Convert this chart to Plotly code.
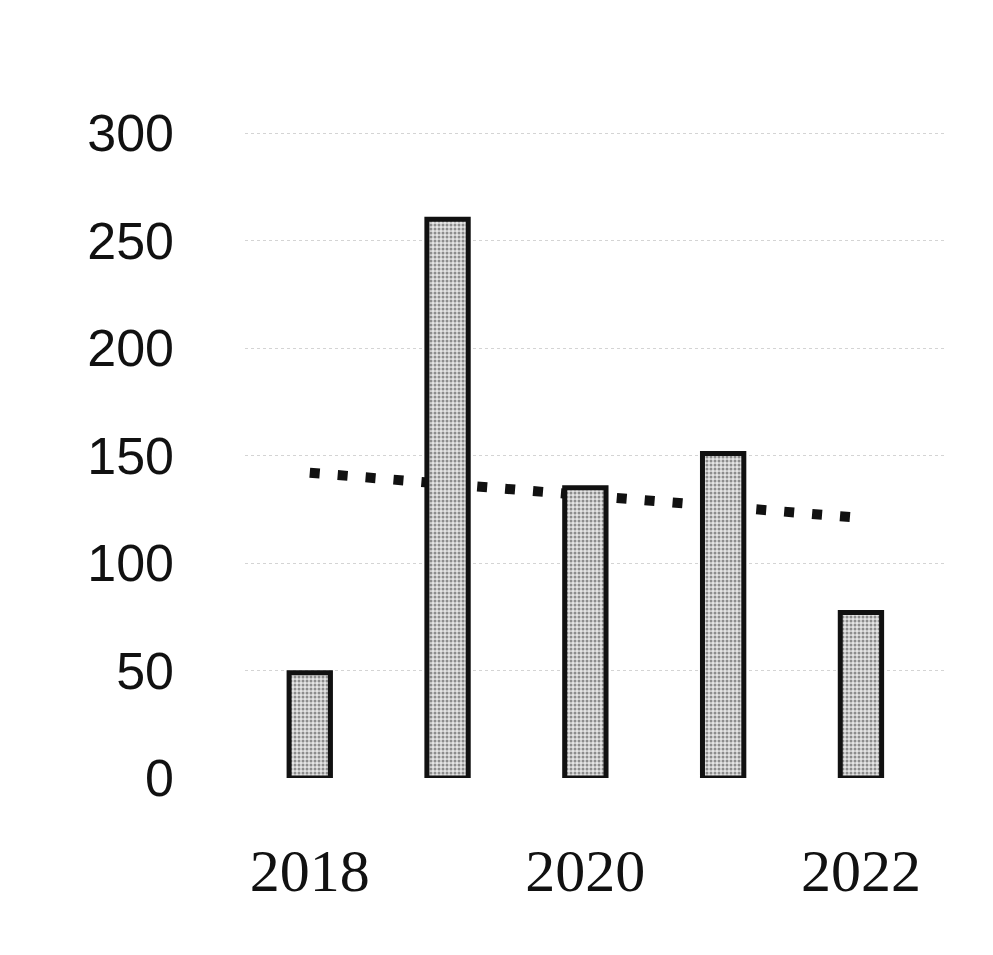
import plotly.graph_objects as go

# Yearly totals shown as bars
years = [2018, 2019, 2020, 2021, 2022]
totals = [49, 260, 135, 151, 77]

# Declining trend line drawn behind the bars
trend_years = [2018, 2022]
trend_values = [142, 121]

# Axis ticks
x_ticks = [2018, 2020, 2022]
y_ticks = [0, 50, 100, 150, 200, 250, 300]

fig = go.Figure()

fig.add_trace(go.Scatter(
    x=trend_years,
    y=trend_values,
    mode="lines",
    line=dict(color="#111111", width=10, dash="10px,18px"),
    zorder=0,
    showlegend=False,
    hoverinfo="skip",
))

fig.add_trace(go.Bar(
    x=years,
    y=totals,
    width=0.3,
    marker=dict(
        color="#e4e4e4",
        line=dict(color="#111111", width=5),
        pattern=dict(shape=".", fgcolor="#333333", bgcolor="#e4e4e4",
                     size=4, solidity=0.45),
    ),
    zorder=1,
    showlegend=False,
))

fig.update_layout(
    width=993,
    height=955,
    paper_bgcolor="white",
    plot_bgcolor="white",
    margin=dict(l=245, r=48, t=131, b=177),
)

fig.update_xaxes(
    range=[2017.53, 2022.61],
    tickvals=x_ticks,
    ticktext=[str(v) for v in x_ticks],
    tickfont=dict(family="Liberation Serif", size=60, color="#111111"),
    ticks="outside",
    ticklen=40,
    tickcolor="rgba(0,0,0,0)",
    showgrid=False,
    showline=False,
    zeroline=False,
)

fig.update_yaxes(
    range=[0, 301],
    tickvals=y_ticks,
    ticktext=[str(v) for v in y_ticks],
    tickfont=dict(family="Liberation Sans", size=52, color="#111111"),
    ticklabelstandoff=70,
    showgrid=True,
    gridcolor="#d4d4d4",
    griddash="dot",
    gridwidth=1,
    zeroline=False,
    showline=False,
)

fig.write_html("out.html")
